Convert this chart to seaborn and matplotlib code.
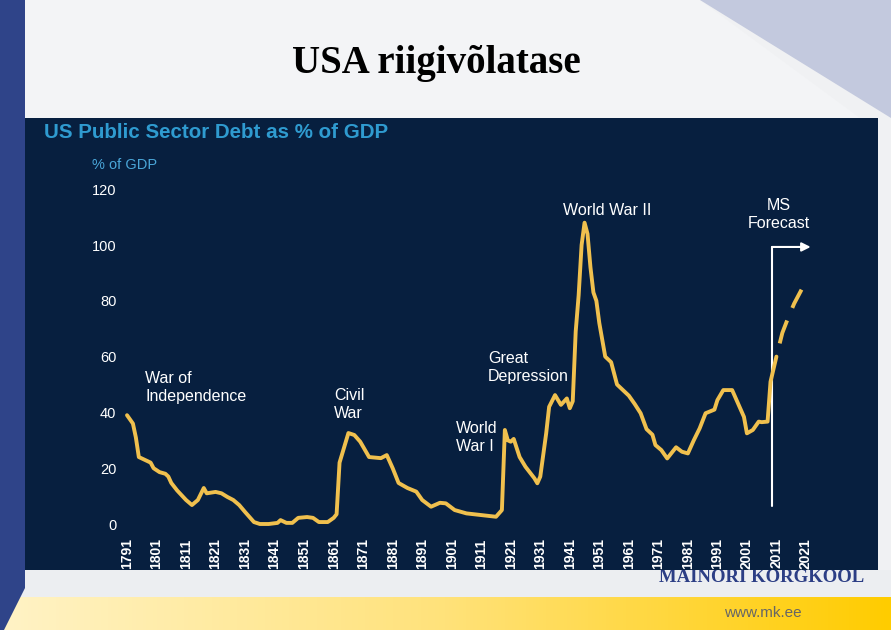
import numpy as np
import pandas as pd
import matplotlib
matplotlib.use("Agg")
import matplotlib.pyplot as plt
import seaborn as sns
from matplotlib.patches import Polygon, Rectangle
from matplotlib.colors import LinearSegmentedColormap

# ---------------- data ----------------
years = [1791, 1793, 1794, 1795, 1797, 1799, 1800, 1802, 1804, 1805, 1806, 1808,
         1811, 1813, 1815, 1817, 1818, 1821, 1823, 1825, 1827, 1829, 1831, 1834,
         1836, 1839, 1842, 1843, 1845, 1847, 1849, 1852, 1854, 1856, 1859, 1861,
         1862, 1863, 1866, 1868, 1870, 1873, 1877, 1879, 1881, 1883, 1886, 1889,
         1891, 1894, 1897, 1899, 1902, 1906, 1911, 1916, 1918, 1919, 1920, 1921,
         1922, 1924, 1926, 1929, 1930, 1931, 1933, 1934, 1936, 1938, 1940, 1941,
         1942, 1943, 1944, 1945, 1946, 1947, 1948, 1949, 1950, 1951, 1952, 1953,
         1955, 1957, 1959, 1961, 1963, 1965, 1967, 1969, 1970, 1972, 1974, 1977,
         1979, 1981, 1983, 1985, 1987, 1990, 1991, 1993, 1996, 1997, 2000, 2001,
         2003, 2005, 2006, 2008, 2009, 2011]
debt = [39, 36, 31, 24, 23, 22, 20, 18.6, 18, 17, 14.7, 12,
        8.6, 6.8, 8.6, 12.9, 11, 11.5, 11, 9.7, 8.6, 6.8, 4.3, 0.7,
        0, 0, 0.4, 1.4, 0.4, 0.4, 2.2, 2.5, 2.2, 0.7, 0.7, 2.2,
        3.5, 22, 32.6, 31.9, 29.5, 24, 23.6, 24.7, 20, 14.7, 12.9, 11.6,
        8.6, 6.2, 7.6, 7.4, 5, 3.8, 3.2, 2.6, 5, 33.7, 30, 29.5,
        30.5, 24, 20.5, 16.4, 14.6, 17, 32.5, 42, 46.2, 42.7, 45, 41.5,
        44, 69, 82, 100, 108, 104, 92, 83, 80, 72, 66, 60,
        58, 50, 48, 46, 43, 39.7, 34, 32, 28.3, 26.5, 23.5, 27.5,
        25.9, 25.3, 30, 34.3, 39.7, 41, 44.4, 48, 48, 45.6, 38.4, 32.5,
        33.7, 36.7, 36.5, 36.7, 51, 60]
forecast_years = [2011, 2013, 2015, 2017, 2019.5]
forecast_debt = [60, 68.5, 74, 79, 84]
ytick_values = [0, 20, 40, 60, 80, 100, 120]
xtick_years = list(range(1791, 2022, 10))

hist = pd.DataFrame({"year": years, "debt": debt})
fc = pd.DataFrame({"year": forecast_years, "debt": forecast_debt})

# ---------------- style ----------------
sns.set_theme(style="white")
plt.rcParams["font.family"] = ["Liberation Sans", "DejaVu Sans"]

W, H = 891, 630
fig = plt.figure(figsize=(W / 100, H / 100), dpi=100)
fig.patch.set_facecolor("#f0f1f3")

# background axes in pixel coordinates
bg = fig.add_axes([0, 0, 1, 1])
bg.set_xlim(0, W)
bg.set_ylim(H, 0)
bg.axis("off")

# light top-left sheen
bg.add_patch(Polygon([(25, 0), (700, 0), (860, 118), (25, 118)],
                     closed=True, facecolor="#f3f4f6", edgecolor="none", zorder=0))
# top-right triangle
bg.add_patch(Polygon([(700, 0), (W, 0), (W, 118)], closed=True,
                     facecolor="#c3c9de", edgecolor="none", zorder=1))
# lower gray band
bg.add_patch(Rectangle((0, 570), W, 27, facecolor="#eceef1", edgecolor="none", zorder=0))
# yellow gradient band
grad = np.linspace(0, 1, 256).reshape(1, -1)
cmap = LinearSegmentedColormap.from_list("yel", ["#fff3c6", "#ffe27a", "#ffcc00"])
bg.imshow(grad, extent=[0, W, H, 597], aspect="auto", cmap=cmap, zorder=1)
bg.set_xlim(0, W)
bg.set_ylim(H, 0)
# left blue strip
bg.add_patch(Polygon([(0, 0), (25, 0), (25, 588), (4, H), (0, H)], closed=True,
                     facecolor="#2f4489", edgecolor="none", zorder=3))

# logo + url (drawn under the panel so its top is cut off)
bg.text(762, 577, "MAINORI KORGKOOL", family=["Liberation Serif", "DejaVu Serif"],
        fontweight="bold", fontsize=13.5, color="#2c3e85", ha="center", va="center", zorder=2)
bg.text(763, 613, "www.mk.ee", fontsize=11, color="#666666", ha="center", va="center",
        zorder=2)

# dark panel
bg.add_patch(Rectangle((25, 118), 853, 452, facecolor="#071f3f", edgecolor="none", zorder=4))

# slide title
bg.text(436, 64, "USA riigivõlatase", family=["Liberation Serif", "DejaVu Serif"],
        fontweight="bold", fontsize=28, color="black", ha="center", va="center", zorder=5)
# panel titles
bg.text(44, 132, "US Public Sector Debt as % of GDP", fontweight="bold", fontsize=14.8,
        color="#2f9bd0", ha="left", va="center", zorder=5)
bg.text(92, 165, "% of GDP", fontsize=10.5, color="#4aa6d8", ha="left", va="center",
        zorder=5)

# ---------------- chart axes ----------------
left_px, right_px, top_px, bot_px = 122, 870, 180, 530
ax = fig.add_axes([left_px / W, (H - bot_px) / H, (right_px - left_px) / W,
                   (bot_px - top_px) / H])
ax.patch.set_alpha(0)
for s in ax.spines.values():
    s.set_visible(False)

line_col = "#f0c04e"
sns.lineplot(data=hist, x="year", y="debt", ax=ax, color=line_col, linewidth=2.8,
             solid_joinstyle="round", solid_capstyle="round")
sns.lineplot(data=fc, x="year", y="debt", ax=ax, color=line_col, linewidth=2.8,
             linestyle=(6.2, (6.2, 3.5)), dash_capstyle="butt")

ax.set_xlim(1789.3, 2042.7)
ax.set_ylim(-2.15, 123.3)
ax.set_xticks(xtick_years)
ax.set_xticklabels([str(y) for y in xtick_years], rotation=90, color="white",
                   fontsize=10, fontweight="bold")
ax.set_yticks(ytick_values)
ax.set_yticklabels([str(v) for v in ytick_values], color="white", fontsize=10.5)
ax.tick_params(axis="both", length=0)
ax.tick_params(axis="x", pad=6)
ax.tick_params(axis="y", pad=4)
ax.set_xlabel("")
ax.set_ylabel("")
ax.grid(False)

# forecast marker and arrow
ax.plot([2009.5, 2009.5], [6.5, 99.3], color="white", linewidth=1.5, zorder=1)
ax.annotate("", xy=(2022.6, 99.3), xytext=(2009.5, 99.3),
            arrowprops=dict(arrowstyle="-|>", color="white", lw=1.5,
                            mutation_scale=13, shrinkA=0, shrinkB=0))

# event labels
tk = dict(color="white", fontsize=11.5, va="top", ha="left", linespacing=1.25)
ax.text(1797.1, 54.8, "War of\nIndependence", **tk)
ax.text(1861.1, 48.9, "Civil\nWar", **tk)
ax.text(1902.4, 36.8, "World\nWar I", **tk)
ax.text(1913.3, 62.0, "Great\nDepression", **tk)
ax.text(1938.7, 114.9, "World War II", **tk)
ax.text(2011.9, 116.8, "MS\nForecast", color="white", fontsize=11.5, va="top",
        ha="center", linespacing=1.25)

fig.savefig("out.png", dpi=100, facecolor=fig.get_facecolor())
